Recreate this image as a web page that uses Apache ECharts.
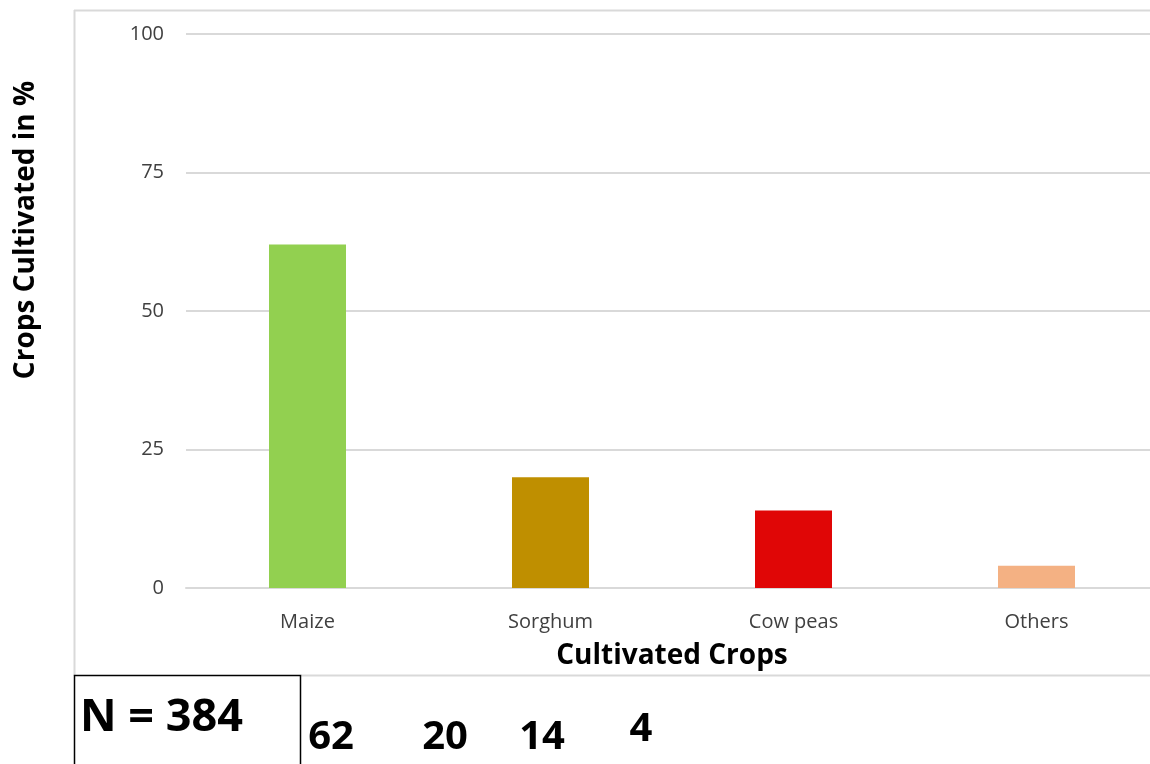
<!DOCTYPE html>
<html>
<head>
<meta charset="utf-8">
<script src="https://cdn.jsdelivr.net/npm/echarts@6/dist/echarts.min.js"></script>
<style>
  html, body { margin: 0; padding: 0; background: #fff; }
  #chart { width: 1150px; height: 764px; }
</style>
</head>
<body>
<div id="chart"></div>
<script>
// Share of respondents cultivating each crop
const categories = ['Maize', 'Sorghum', 'Cow peas', 'Others'];
const percentValues = [62, 20, 14, 4];
const barColors = ['#92D050', '#BF8F00', '#E00606', '#F4B183'];
const yTicks = { min: 0, max: 100, interval: 25 };
const sampleLabel = 'N = 384';
const yAxisTitle = 'Crops Cultivated in %';
const xAxisTitle = 'Cultivated Crops';

const fontFamily = '"Open Sans", "Noto Sans", sans-serif';
const chart = echarts.init(document.getElementById('chart'), null, { renderer: 'canvas' });

// Positions of the value row printed under the chart
const valueRowX = [331, 445, 542, 641];
const valueRowY = [738, 738, 738, 730];

const graphics = [
  // frame of the plot panel
  { type: 'line', shape: { x1: 74.5, y1: 10, x2: 74.5, y2: 676 }, style: { stroke: '#D9D9D9', lineWidth: 2 } },
  { type: 'line', shape: { x1: 74, y1: 10.5, x2: 1150, y2: 10.5 }, style: { stroke: '#D9D9D9', lineWidth: 2 } },
  { type: 'line', shape: { x1: 301, y1: 675.5, x2: 1150, y2: 675.5 }, style: { stroke: '#D9D9D9', lineWidth: 2 } },
  // vertical axis title
  { type: 'text', x: 26, y: 230, rotation: Math.PI / 2,
    style: { text: yAxisTitle, font: 'bold 28px ' + fontFamily, fill: '#000', textAlign: 'center', textVerticalAlign: 'middle' } },
  // sample size box
  { type: 'rect', shape: { x: 74.5, y: 675.5, width: 226, height: 100 }, style: { fill: 'none', stroke: '#000', lineWidth: 1.5 } },
  { type: 'text', x: 80, y: 718, style: { text: sampleLabel, font: 'bold 45px ' + fontFamily, fill: '#000', textVerticalAlign: 'middle' } }
];
percentValues.forEach((v, i) => {
  graphics.push({
    type: 'text', x: valueRowX[i], y: valueRowY[i],
    style: { text: String(v), font: 'bold 40px ' + fontFamily, fill: '#000', textAlign: 'center', textVerticalAlign: 'middle' }
  });
});

chart.setOption({
  animation: false,
  backgroundColor: '#fff',
  grid: { left: 186, width: 972, top: 34, bottom: 176, containLabel: false, outerBoundsMode: 'none' },
  xAxis: {
    type: 'category',
    data: categories,
    name: xAxisTitle,
    nameLocation: 'middle',
    nameGap: 54,
    nameTextStyle: { fontFamily, fontSize: 28, fontWeight: 'bold', color: '#000' },
    axisLine: { show: true, lineStyle: { color: '#D9D9D9', width: 2 } },
    axisTick: { show: false },
    axisLabel: { fontFamily, fontSize: 20, color: '#404040', margin: 24 }
  },
  yAxis: {
    type: 'value',
    min: yTicks.min, max: yTicks.max, interval: yTicks.interval,
    axisLine: { show: false },
    axisTick: { show: false },
    axisLabel: { fontFamily, fontSize: 20, color: '#404040', margin: 22 },
    splitLine: { lineStyle: { color: '#D9D9D9', width: 2 } }
  },
  series: [{
    type: 'bar',
    data: percentValues.map((v, i) => ({ value: v, itemStyle: { color: barColors[i] } })),
    barWidth: 77
  }],
  graphic: graphics
});
</script>
</body>
</html>
